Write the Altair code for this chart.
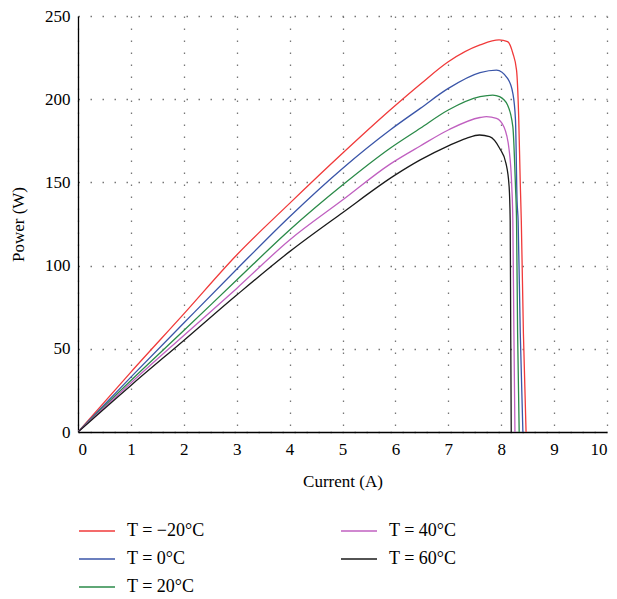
import altair as alt
import pandas as pd

labels = ["T = −20°C", "T = 0°C", "T = 20°C", "T = 40°C", "T = 60°C"]
colors = ["#f03a3a", "#3a55a8", "#2a8a48", "#c060c0", "#1a1a1a"]

red_I = [0, 1, 2, 3, 4, 5, 5.9, 6.47, 7.0, 7.6, 7.96, 8.12, 8.22, 8.29, 8.33, 8.36, 8.38, 8.42, 8.47]
red_P = [0, 36, 71, 106.4, 137.4, 167.5, 193.5, 209, 222.5, 232.6, 235.6, 234.6, 227.6, 217.5, 190, 150, 127, 59, 0]

blue_I = [0, 1, 2, 3, 4, 5, 5.9, 6.47, 7.0, 7.6, 7.91, 8.12, 8.22, 8.27, 8.30, 8.32, 8.36, 8.41]
blue_P = [0, 33, 65.5, 97.8, 129.4, 158.4, 181.5, 194.5, 206.5, 216, 217.5, 212.5, 203.5, 187.5, 139, 127, 60, 0]

green_I = [0, 1, 2, 3, 4, 5, 5.9, 6.47, 7.0, 7.6, 7.84, 7.97, 8.12, 8.22, 8.27, 8.29, 8.31, 8.34]
green_P = [0, 31, 61, 91.3, 121.4, 148.4, 170.5, 182.5, 193.5, 201.5, 202.5, 201.5, 196.5, 183.5, 147.4, 127, 60, 0]

mag_I = [0, 1, 2, 3, 4, 5, 5.9, 6.47, 7.0, 7.6, 7.72, 7.91, 8.05, 8.15, 8.20, 8.22, 8.24, 8.26]
mag_P = [0, 29.5, 58, 86.3, 115.4, 139.4, 161, 171.9, 181.5, 189, 189.5, 188.5, 183.5, 169.5, 147.4, 127, 60, 0]

blk_I = [0, 1, 2, 3, 4, 5, 6, 6.47, 7.0, 7.34, 7.59, 7.78, 7.97, 8.09, 8.15, 8.17, 8.18, 8.19]
blk_P = [0, 28, 55, 82.3, 108.4, 131.8, 154.5, 163.5, 172, 176.5, 178.5, 177.5, 170.5, 161.5, 147.4, 127, 60, 0]

series = [(red_I, red_P), (blue_I, blue_P), (green_I, green_P), (mag_I, mag_P), (blk_I, blk_P)]
rows = []
for lab, (xs, ys) in zip(labels, series):
    for i, (x, y) in enumerate(zip(xs, ys)):
        rows.append({"T": lab, "I": x, "P": y, "ord": i})
df = pd.DataFrame(rows)

serif = "Liberation Serif"

chart = alt.Chart(df).mark_line(strokeWidth=1.3, clip=True, interpolate="monotone").encode(
    x=alt.X("I:Q", scale=alt.Scale(domain=[0, 10], nice=False),
            axis=alt.Axis(title="Current (A)", values=list(range(0, 11)), format="d")),
    y=alt.Y("P:Q", scale=alt.Scale(domain=[0, 250], nice=False),
            axis=alt.Axis(title="Power (W)", values=[0, 50, 100, 150, 200, 250], format="d")),
    color=alt.Color("T:N", scale=alt.Scale(domain=labels, range=colors),
                    legend=alt.Legend(title=None, orient="none", legendX=0, legendY=496,
                                      columns=2, columnPadding=133, rowPadding=-1,
                                      symbolType="stroke", symbolSize=1296,
                                      symbolStrokeWidth=1.5, labelOffset=11,
                                      labelFont=serif, labelFontSize=18, labelColor="black",
                                      padding=0)),
    order="ord:Q",
).properties(
    width=529, height=416,
    autosize=alt.AutoSizeParams(type="none"),
    padding={"left": 78, "top": 16, "right": 10, "bottom": 167},
).configure_view(stroke=None).configure_axis(
    labelFont=serif, labelFontSize=17, labelColor="black",
    titleFont=serif, titleFontSize=17, titleFontWeight="normal", titleColor="black",
    domainColor="black", domainWidth=1.3, ticks=False,
    grid=True, gridColor="#777777", gridDash=[1.5, 10.5], gridWidth=1.3,
).configure_axisX(labelPadding=9, titlePadding=16).configure_axisY(labelPadding=8, titlePadding=17)

chart.save("out.html", embed_options={"renderer": "svg", "actions": False})
